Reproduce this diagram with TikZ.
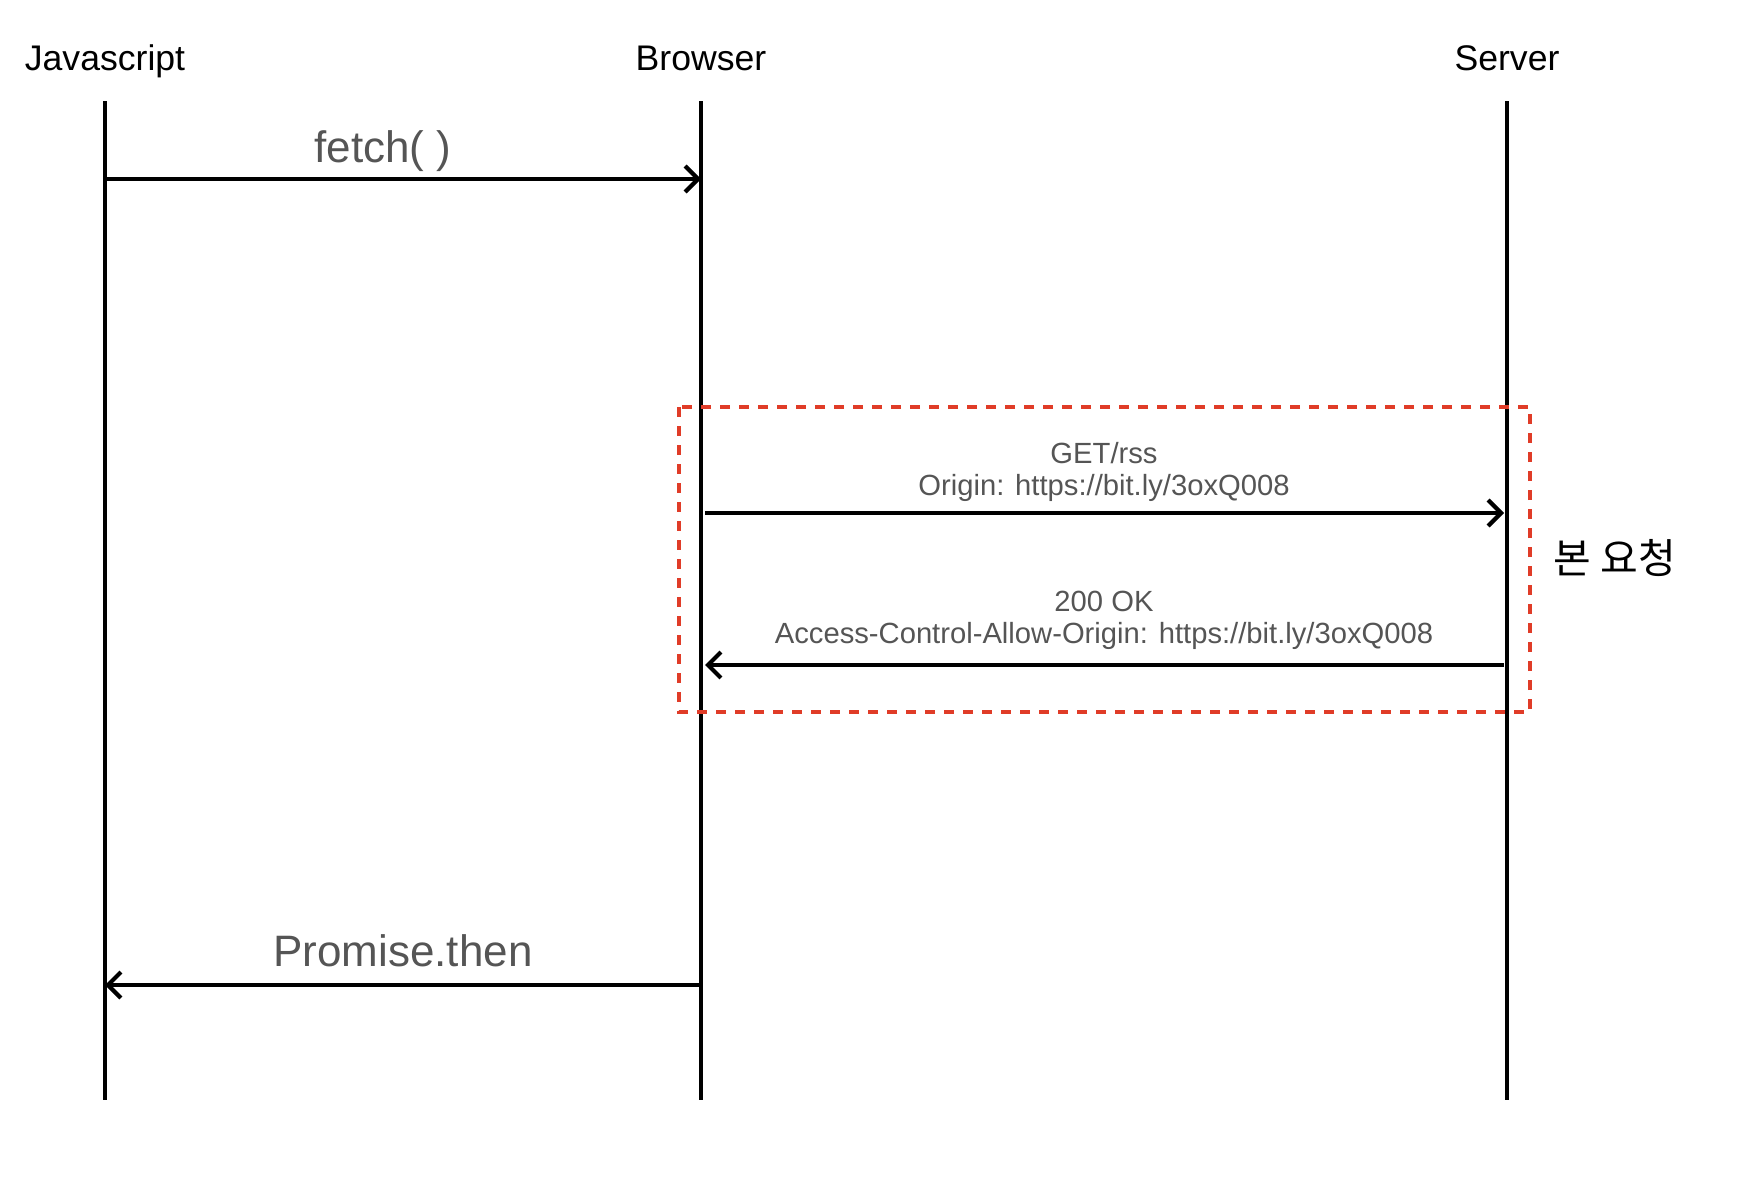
\documentclass[tikz,border=0pt]{standalone}
\usepackage{fontspec}
\setmainfont{Liberation Sans}
\newfontfamily\krfont{Noto Sans CJK KR}
\usetikzlibrary{arrows.meta}
\definecolor{labelgrey}{HTML}{555555}
\definecolor{boxred}{HTML}{E03C28}
\tikzset{
  lifeline/.style={line width=1.8pt, black},
  msg/.style={line width=2.1pt, black, -{Straight Barb[length=6.5pt,width=13pt,line width=2.1pt]}},
  title/.style={font=\fontsize{17.8}{20}\selectfont, text=black, inner sep=0pt, anchor=base},
  biglabel/.style={font=\fontsize{22}{26}\selectfont, text=labelgrey, inner sep=0pt},
  smalllabel/.style={font=\fontsize{14.6}{16}\selectfont, text=labelgrey, inner sep=0pt, align=center},
  groupbox/.style={draw=boxred, line width=2pt, dash pattern=on 5pt off 4.5pt},
}
\begin{document}
\begin{tikzpicture}[x=0.5pt,y=-0.5pt]
\useasboundingbox (0,0) rectangle (1756,1178);
% titles
\node[title] (js) at (105,70) {Javascript};
\node[title] (br) at (701,70) {Browser};
\node[title] (sv) at (1507,70) {Server};
% lifelines
\coordinate (jsT) at (105,101);
\coordinate (jsB) at (105,1100);
\coordinate (brT) at (701,101);
\coordinate (brB) at (701,1100);
\coordinate (svT) at (1507,101);
\coordinate (svB) at (1507,1100);
\draw[lifeline] (jsT) -- (jsB);
\draw[lifeline] (brT) -- (brB);
\draw[lifeline] (svT) -- (svB);
% group box
\coordinate (boxA) at (679,407);
\coordinate (boxB) at (1530,712);
\draw[groupbox] (boxA) rectangle (boxB);
\node[font=\krfont\fontsize{20.5}{22}\selectfont, inner sep=0pt] (main) at (1615,558) {본 요청};
% fetch
\coordinate (f1) at (105,179);
\coordinate (f2) at (701,179);
\draw[msg] (f1) -- (f2);
\node[biglabel] (fl) at (383,151) {fetch( )};
% GET
\coordinate (g1) at (705,513);
\coordinate (g2) at (1504,513);
\draw[msg] (g1) -- (g2);
\node[smalllabel] (gl) at (1104,472) {GET/rss\\Origin: https://bit.ly/3oxQ008};
% response
\coordinate (r1) at (1504,665);
\coordinate (r2) at (705,665);
\draw[msg] (r1) -- (r2);
\node[smalllabel] (rl) at (1104,620) {200 OK\\Access-Control-Allow-Origin: https://bit.ly/3oxQ008};
% promise
\coordinate (p1) at (701,985);
\coordinate (p2) at (105,985);
\draw[msg] (p1) -- (p2);
\node[biglabel] (pl) at (403,951) {Promise.then};
\end{tikzpicture}
\end{document}
